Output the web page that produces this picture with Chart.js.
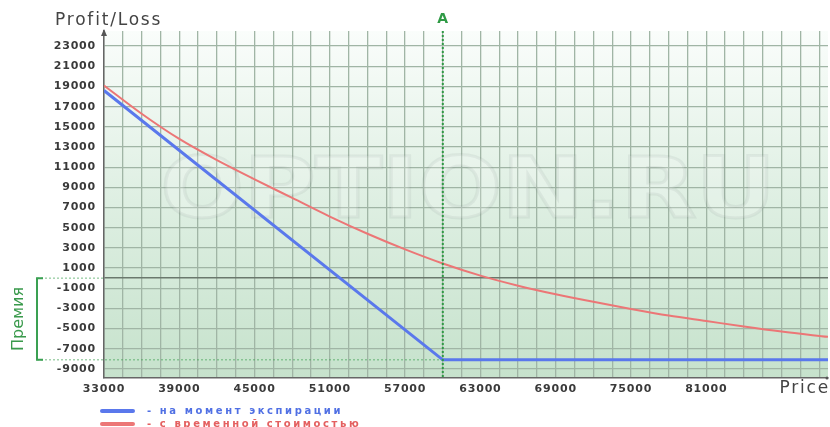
<!DOCTYPE html>
<html><head><meta charset="utf-8">
<script src="https://cdn.jsdelivr.net/npm/chart.js@4.4.0/dist/chart.umd.min.js"></script>
<style>html,body{margin:0;padding:0;background:#fff;}#wrap{width:830px;height:427px;position:relative}</style>
</head><body><div id="wrap"><canvas id="c" width="830" height="427" style="width:830px;height:427px"></canvas></div>
<script>
// ---- data ----
const xTickLabels = [33000, 39000, 45000, 51000, 57000, 63000, 69000, 75000, 81000];
const yTickLabels = [-9000, -7000, -5000, -3000, -1000, 1000, 3000, 5000, 7000, 9000, 11000, 13000, 15000, 17000, 19000, 21000, 23000];
const expirationPrice = [33000, 60000, 90700];
const expirationPL = [18600, -8100, -8100];
const timeValuePrice = [33000, 36000, 39000, 42000, 45000, 48000, 51000, 54000, 57000, 60000, 63000, 66000, 69000, 72000, 75000, 78000, 81000, 84000, 87000, 90700];
const timeValuePL = [19100, 16300, 13800, 11700, 9800, 7950, 6100, 4400, 2850, 1450, 250, -750, -1600, -2350, -3050, -3700, -4250, -4800, -5300, -5820];
const strikePrice = 60000;
const premiumLevel = -8100;
const legendLabels = ['- на момент экспирации', '- с временной стоимостью'];
const seriesColors = ['#5a78ec', '#ec7676'];

const toPoints = (xs, ys) => xs.map((x, i) => ({x: x, y: ys[i]}));

const decor = {
  id: 'decor',
  beforeDraw(chart) {
    const {ctx, chartArea: a} = chart;
    ctx.save();
    ctx.fillStyle = '#ffffff';
    ctx.fillRect(0, 0, chart.width, chart.height);
    const g = ctx.createLinearGradient(0, a.top, 0, a.bottom);
    g.addColorStop(0, '#fafdfb');
    g.addColorStop(0.45, '#e0f0e4');
    g.addColorStop(1, '#c6e2cc');
    ctx.fillStyle = g;
    ctx.fillRect(a.left, a.top, a.right - a.left, a.bottom - a.top);
    ctx.restore();
    ctx.letterSpacing = '0.8px';
  },
  beforeDatasetsDraw(chart) {
    const {ctx, chartArea: a, scales: {x, y}} = chart;
    ctx.save();
    // watermark
    ctx.letterSpacing = '0px';
    ctx.font = 'bold 84px "DejaVu Sans"';
    ctx.textAlign = 'center';
    ctx.textBaseline = 'middle';
    const wm = 'OPTION.RU';
    const w = ctx.measureText(wm).width;
    ctx.translate((a.left + a.right) / 2 + 2, 195);
    ctx.scale(615 / w, 1);
    ctx.fillStyle = 'rgba(255,255,255,0.18)';
    ctx.fillText(wm, 0, 0);
    ctx.lineWidth = 3;
    ctx.strokeStyle = 'rgba(120,130,125,0.10)';
    ctx.strokeText(wm, 0, 0);
    ctx.restore();

    // dotted premium lines
    ctx.save();
    ctx.strokeStyle = 'rgba(60,160,80,0.7)';
    ctx.lineWidth = 1;
    ctx.setLineDash([2, 2]);
    const y0 = y.getPixelForValue(0), yp = y.getPixelForValue(premiumLevel);
    const xs = x.getPixelForValue(strikePrice);
    ctx.beginPath();
    ctx.moveTo(37, y0); ctx.lineTo(a.left, y0);
    ctx.moveTo(37, yp); ctx.lineTo(xs, yp);
    ctx.stroke();
    ctx.restore();
  },
  afterDatasetsDraw(chart) {
    const {ctx, chartArea: a, scales: {x, y}} = chart;
    ctx.save();
    ctx.letterSpacing = '0px';
    const xs = x.getPixelForValue(strikePrice);
    // strike line
    ctx.strokeStyle = '#2f9a45';
    ctx.lineWidth = 2;
    ctx.setLineDash([2, 2]);
    ctx.beginPath();
    ctx.moveTo(xs, a.top); ctx.lineTo(xs, a.bottom);
    ctx.stroke();
    ctx.setLineDash([]);
    ctx.fillStyle = '#2f9a45';
    ctx.font = 'bold 14px "DejaVu Sans"';
    ctx.textAlign = 'center';
    ctx.textBaseline = 'middle';
    ctx.fillText('A', xs, 19);

    // premium bracket
    const y0 = y.getPixelForValue(0), yp = y.getPixelForValue(premiumLevel);
    ctx.strokeStyle = '#3aa052';
    ctx.lineWidth = 2;
    ctx.beginPath();
    ctx.moveTo(43, y0); ctx.lineTo(37, y0); ctx.lineTo(37, yp); ctx.lineTo(43, yp);
    ctx.stroke();
    ctx.save();
    ctx.translate(19, (y0 + yp) / 2);
    ctx.rotate(-Math.PI / 2);
    ctx.fillStyle = '#3a9a4c';
    ctx.font = '16px "DejaVu Sans"';
    ctx.fillText('Премия', 0, 0);
    ctx.restore();

    // axis arrows
    ctx.fillStyle = '#555';
    ctx.beginPath();
    ctx.moveTo(a.left, a.top - 2); ctx.lineTo(a.left - 3, a.top + 5); ctx.lineTo(a.left + 3, a.top + 5);
    ctx.closePath(); ctx.fill();
    ctx.beginPath();
    ctx.arc(a.right - 1, a.bottom, 1.5, 0, Math.PI * 2); ctx.fill();

    // axis titles
    ctx.fillStyle = '#444';
    ctx.font = '17px "DejaVu Sans"';
    ctx.letterSpacing = '1.8px';
    ctx.textAlign = 'left';
    ctx.fillText('Profit/Loss', 55, 21);
    ctx.textAlign = 'right';
    ctx.fillText('Price', 830, 389);

    // legend
    ctx.letterSpacing = '2.6px';
    ctx.font = 'bold 10px "DejaVu Sans"';
    ctx.textAlign = 'left';
    const ly = [411, 424];
    legendLabels.forEach((t, i) => {
      ctx.strokeStyle = seriesColors[i];
      ctx.lineWidth = 4;
      ctx.lineCap = 'round';
      ctx.beginPath();
      ctx.moveTo(102, ly[i]); ctx.lineTo(133, ly[i]);
      ctx.stroke();
      ctx.fillStyle = i === 0 ? '#5070e4' : '#e46060';
      ctx.fillText(t, 147, ly[i]);
    });
    ctx.restore();
  }
};

new Chart(document.getElementById('c'), {
  type: 'scatter',
  data: {
    datasets: [
      {data: toPoints(expirationPrice, expirationPL), showLine: true, borderColor: seriesColors[0], borderWidth: 3, pointRadius: 0, tension: 0},
      {data: toPoints(timeValuePrice, timeValuePL), showLine: true, borderColor: seriesColors[1], borderWidth: 2, pointRadius: 0, cubicInterpolationMode: 'monotone'}
    ]
  },
  options: {
    responsive: false,
    animation: false,
    devicePixelRatio: 1,
    layout: {padding: {top: 31, right: 2, left: 0, bottom: 0}},
    plugins: {legend: {display: false}, tooltip: {enabled: false}},
    scales: {
      x: {
        type: 'linear', min: 33000, max: 90700,
        afterBuildTicks: ax => {
          const t = [];
          for (let v = 33000; v <= 90700; v += 1500) t.push({value: v});
          ax.ticks = t;
        },
        afterFit: ax => { ax.height = 49; },
        grid: {color: '#a0b5a5', lineWidth: 1.3, drawTicks: false},
        border: {color: '#666', width: 1.5},
        ticks: {
          autoSkip: false, maxRotation: 0, padding: 5,
          font: {family: 'DejaVu Sans', size: 11, weight: 'bold'}, color: '#3a3a3a',
          callback: v => xTickLabels.includes(v) ? String(v) : ''
        }
      },
      y: {
        type: 'linear', min: -9900, max: 24500,
        afterBuildTicks: ax => {
          ax.ticks = [...yTickLabels, 0].sort((p, q) => p - q).map(v => ({value: v}));
        },
        afterFit: ax => { ax.width = 104; },
        grid: {
          color: c => (c.tick && c.tick.value === 0) ? '#6a786d' : '#a0b5a5',
          lineWidth: c => (c.tick && c.tick.value === 0) ? 1.6 : 1.3,
          drawTicks: false
        },
        border: {color: '#666', width: 1.5},
        ticks: {
          autoSkip: false, padding: 8,
          font: {family: 'DejaVu Sans', size: 11, weight: 'bold'}, color: '#3a3a3a',
          callback: v => v === 0 ? '' : String(v)
        }
      }
    }
  },
  plugins: [decor]
});
</script></body></html>
